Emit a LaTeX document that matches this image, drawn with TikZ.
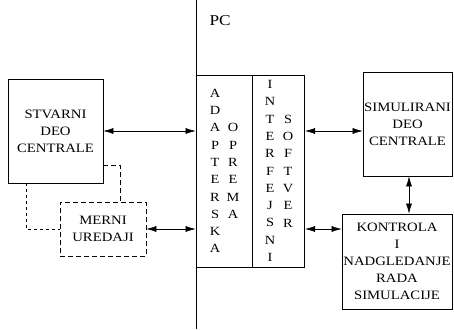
\documentclass[tikz,border=0pt]{standalone}
\usepackage{fontspec}
\setmainfont{Liberation Serif}[FakeStretch=1.15]
\usetikzlibrary{arrows.meta, positioning, calc}

\tikzset{
  block/.style={draw, line width=0.7pt, inner sep=0pt, align=center, font=\fontsize{12.8}{17}\selectfont},
  letters/.style={inner sep=0pt, align=center, font=\fontsize{12.5}{17.3}\selectfont},
  link/.style={{Latex[length=10pt,width=6pt]}-{Latex[length=10pt,width=6pt]}, line width=0.6pt},
  probe/.style={line width=0.6pt, dash pattern=on 5pt off 3pt},
  fineprobe/.style={line width=0.5pt, dash pattern=on 3pt off 3pt}
}

\begin{document}
\begin{tikzpicture}[x=1pt, y=-1pt]
  \useasboundingbox (0,0) rectangle (454,329);

  % PC part
  \node[block, minimum width=56pt, minimum height=192pt] (adapt) at (224,171) {};
  \node[block, minimum width=52pt, minimum height=192pt, right=0pt of adapt] (iface) {};
  \coordinate (pctop) at (196,0);
  \coordinate (pcbot) at (196,329);
  \draw[line width=0.7pt] (pctop) -- (pcbot);
  \node[font=\fontsize{15}{18}\selectfont, anchor=west] (pc) at (206,21) {PC};

  % Letter columns
  \node[letters] (adaptA) at (215,171) {A\\D\\A\\P\\T\\E\\R\\S\\K\\A};
  \node[letters] (adaptB) at (233,171) {O\\P\\R\\E\\M\\A};
  \node[letters] (ifaceA) at (270,171) {I\\N\\T\\E\\R\\F\\E\\J\\S\\N\\I};
  \node[letters] (ifaceB) at (288,171) {S\\O\\F\\T\\V\\E\\R};

  % Plant side
  \node[block, minimum width=95pt, minimum height=104pt] (stvarni) at (55.5,131) {STVARNI\\DEO\\CENTRALE};
  \node[block, probe, minimum width=86pt, minimum height=54pt] (merni) at (103,229) {MERNI\\UREDAJI};

  % Simulation side
  \node[block, minimum width=89pt, minimum height=104pt] (simul) at (407.5,124) {SIMULIRANI\\DEO\\CENTRALE};
  \node[block, minimum width=110pt, minimum height=95pt] (kontrola) at (397,261.5) {KONTROLA\\I\\NADGLEDANJE\\RADA\\SIMULACIJE};

  % Links
  \draw[link] (stvarni.east) -- (stvarni.east -| adapt.west);
  \draw[link] (iface.east |- stvarni.east) -- (stvarni.east -| simul.west);
  \draw[link] (merni.east) -- (merni.east -| adapt.west);
  \draw[link] (iface.east |- merni.east) -- (merni.east -| kontrola.west);
  \draw[link] ([xshift=1.5pt]simul.south) -- ([xshift=1.5pt]simul.south |- kontrola.north);

  % Measurement connections
  \draw[probe] ([yshift=-34pt]stvarni.east) -| ([xshift=17pt]merni.north);
  \draw[fineprobe] ([xshift=-29.5pt]stvarni.south) |- (merni.west);
\end{tikzpicture}
\end{document}
